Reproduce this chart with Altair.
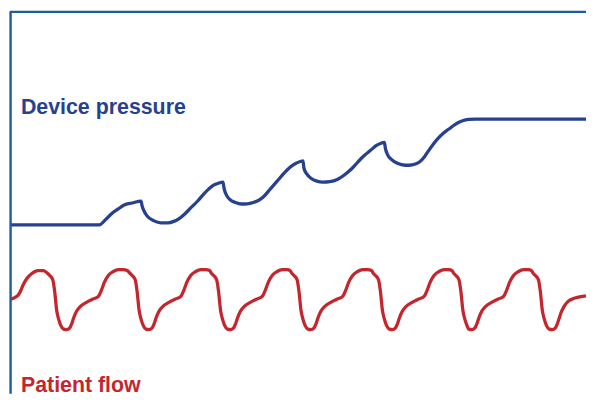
import altair as alt
import pandas as pd

# Device pressure trace (x, y in screen-like units: y grows downward)
pressure_x = [8, 98, 104, 110, 117, 123, 131, 140, 141, 143, 146, 153, 160, 167, 173, 178, 184, 190,
              197, 203, 208, 213, 218, 222.5, 223.5, 226, 230, 235, 241, 247, 253, 258, 263, 270, 277,
              284, 290, 296, 303, 304, 307, 311, 317, 323, 330, 338, 345, 352, 358, 365, 371, 377, 381,
              385, 386, 388, 392, 398, 406, 413, 420, 425, 429, 434, 439, 444, 450, 456, 463, 470, 477, 596]
pressure_y = [223, 223, 218, 212, 207, 203, 201, 199, 204, 209, 214, 219, 221, 221, 219.5, 217, 212, 206,
              199, 192, 187, 183, 181, 180, 186, 193, 198, 200.5, 202, 201.8, 200.5, 198.5, 195, 187, 179,
              171, 165, 161, 158.5, 166, 172, 176, 179, 180, 179.5, 177, 172.5, 166.5, 160, 153, 148, 143, 141,
              140, 146, 152, 157, 161, 163, 162.5, 160, 155, 149, 142, 136, 131, 126.5, 122, 118.5, 116.8, 116.5, 116.5]

# Patient flow trace
flow_x = [8, 15, 18, 21, 25, 30, 36, 42,
          46, 48, 51, 53, 55, 57, 59, 62, 65, 68, 70, 72, 75, 79, 85, 91, 97, 100, 103, 107, 112, 117, 122, 126,
          129, 131, 134, 136, 138, 140, 142, 145, 148, 151, 153, 155, 158, 162, 168, 174, 180, 183, 186, 190, 195, 200, 205, 209,
          211, 213, 216, 218, 220, 222, 224, 227, 230, 233, 235, 237, 240, 244, 250, 256, 262, 265, 268, 272, 277, 282, 287, 290,
          292, 294, 297, 299, 301, 303, 305, 308, 311, 314, 316, 318, 321, 325, 331, 337, 343, 346, 349, 353, 358, 363, 368, 372,
          374, 376, 379, 381, 383, 385, 387, 390, 393, 396, 398, 400, 403, 407, 413, 419, 425, 428, 431, 435, 440, 445, 450, 453,
          455, 457, 460, 462, 464, 466, 468, 470, 473, 476, 478, 480, 483, 487, 493, 499, 505, 508, 511, 515, 520, 525, 530, 533,
          535, 537, 540, 542, 544, 546, 548, 551, 554, 557, 559, 561, 563, 566, 570, 576, 584, 596]
flow_y = [298, 295, 291, 284, 277, 272, 269, 269,
          272, 274, 278, 290, 309, 318, 324, 328, 328.5, 327, 323, 317, 310, 305, 301, 298, 295, 289, 281, 274, 270, 268, 268, 269,
          272, 274, 278, 290, 309, 318, 324, 328, 328.5, 327, 323, 317, 310, 305, 301, 298, 295, 289, 281, 274, 270, 268, 268, 269,
          272, 274, 278, 290, 309, 318, 324, 328, 328.5, 327, 323, 317, 310, 305, 301, 298, 295, 289, 281, 274, 270, 268, 268, 269,
          272, 274, 278, 290, 309, 318, 324, 328, 328.5, 327, 323, 317, 310, 305, 301, 298, 295, 289, 281, 274, 270, 268, 268, 269,
          272, 274, 278, 290, 309, 318, 324, 328, 328.5, 327, 323, 317, 310, 305, 301, 298, 295, 289, 281, 274, 270, 268, 268, 269,
          272, 274, 278, 290, 309, 318, 324, 328, 328.5, 327, 323, 317, 310, 305, 301, 298, 295, 289, 281, 274, 270, 268, 268, 269,
          272, 274, 278, 290, 309, 318, 324, 328, 328.5, 327, 323, 317, 311, 305, 300, 297, 295, 294]

labels = ["Device pressure", "Patient flow"]
label_colors = ["#27418f", "#c4262e"]

W, H = 580, 385

pdf = pd.DataFrame({"t": pressure_x, "v": pressure_y, "i": range(len(pressure_x))})
fdf = pd.DataFrame({"t": flow_x, "v": flow_y, "i": range(len(flow_x))})

xs = alt.Scale(domain=[8, 8 + W], nice=False, zero=False)
ys = alt.Scale(domain=[8, 8 + H], nice=False, zero=False, reverse=True)

def trace(df, color):
    return alt.Chart(df).mark_line(color=color, strokeWidth=3.3, interpolate="monotone",
                                   strokeCap="round", strokeJoin="round", clip=True).encode(
        x=alt.X("t:Q", scale=xs, axis=None),
        y=alt.Y("v:Q", scale=ys, axis=None),
        order="i:Q",
    )

border_color = "#1b5c9e"
left_rule = alt.Chart(pd.DataFrame({"a": [0]})).mark_rule(color=border_color, strokeWidth=2.4).encode(
    x=alt.value(0.6), y=alt.value(0), y2=alt.value(H))
top_rule = alt.Chart(pd.DataFrame({"a": [0]})).mark_rule(color=border_color, strokeWidth=2.4).encode(
    x=alt.value(0), x2=alt.value(W), y=alt.value(0.6))

font = "Liberation Sans, Arial, sans-serif"
t1 = alt.Chart(pd.DataFrame({"label": [labels[0]]})).mark_text(
    align="left", baseline="alphabetic", font=font, fontSize=21.5, fontWeight="bold", color=label_colors[0]
).encode(x=alt.value(11), y=alt.value(103), text="label:N")
t2 = alt.Chart(pd.DataFrame({"label": [labels[1]]})).mark_text(
    align="left", baseline="alphabetic", font=font, fontSize=21.5, fontWeight="bold", color=label_colors[1]
).encode(x=alt.value(11), y=alt.value(383), text="label:N")

chart = alt.layer(
    trace(pdf, "#27418f"), trace(fdf, "#c4262e"), left_rule, top_rule, t1, t2
).properties(width=W, height=H, padding=0).configure_view(stroke=None)

chart.save("out.html", embed_options={"renderer": "svg", "actions": False})
